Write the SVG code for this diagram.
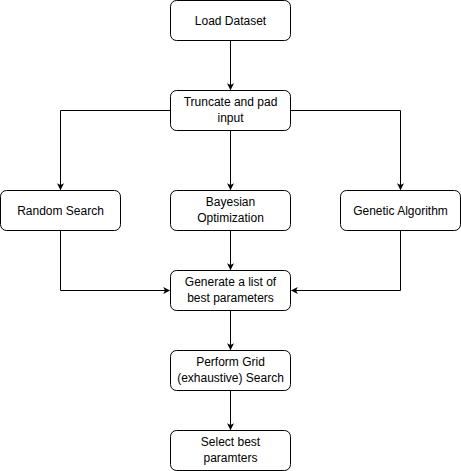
<svg xmlns="http://www.w3.org/2000/svg" width="461" height="471" viewBox="0 0 461 471">
<style>
.box{fill:#fff;stroke:#000;stroke-width:1}
.lbl{font-family:"Liberation Sans",Arial,sans-serif;font-size:12px;fill:#000;text-anchor:middle}
.edge{fill:none;stroke:#000;stroke-width:1}
</style>
<defs>
<marker id="arr" viewBox="0 0 10 10" refX="9" refY="5" markerWidth="7" markerHeight="7" markerUnits="userSpaceOnUse" orient="auto">
<path d="M0,0 L10,5 L0,10 L2.5,5 Z" fill="#000"/>
</marker>
</defs>
<rect width="461" height="471" fill="#fff"/>
<g id="edges">
<path class="edge" d="M230.5,40.5 V89.5" marker-end="url(#arr)"/>
<path class="edge" d="M170.5,110.5 H60.5 V189.5" marker-end="url(#arr)"/>
<path class="edge" d="M230.5,130.5 V189.5" marker-end="url(#arr)"/>
<path class="edge" d="M290.5,110.5 H400.5 V189.5" marker-end="url(#arr)"/>
<path class="edge" d="M60.5,230.5 V290.5 H169.5" marker-end="url(#arr)"/>
<path class="edge" d="M230.5,230.5 V269.5" marker-end="url(#arr)"/>
<path class="edge" d="M400.5,230.5 V290.5 H291.5" marker-end="url(#arr)"/>
<path class="edge" d="M230.5,310.5 V349.5" marker-end="url(#arr)"/>
<path class="edge" d="M230.5,390.5 V429.5" marker-end="url(#arr)"/>
</g>
<g id="load"><rect class="box" x="170.5" y="0.5" width="120" height="40" rx="6"/><text class="lbl" x="230.5" y="25">Load Dataset</text></g>
<g id="truncate"><rect class="box" x="170.5" y="90.5" width="120" height="40" rx="6"/><text class="lbl" x="230.5" y="106">Truncate and pad</text><text class="lbl" x="230.5" y="122">input</text></g>
<g id="random"><rect class="box" x="0.5" y="190.5" width="120" height="40" rx="6"/><text class="lbl" x="60.5" y="215">Random Search</text></g>
<g id="bayes"><rect class="box" x="170.5" y="190.5" width="120" height="40" rx="6"/><text class="lbl" x="230.5" y="206">Bayesian</text><text class="lbl" x="230.5" y="222">Optimization</text></g>
<g id="genetic"><rect class="box" x="340.5" y="190.5" width="120" height="40" rx="6"/><text class="lbl" x="400.5" y="215">Genetic Algorithm</text></g>
<g id="generate"><rect class="box" x="170.5" y="270.5" width="120" height="40" rx="6"/><text class="lbl" x="230.5" y="286">Generate a list of</text><text class="lbl" x="230.5" y="302">best parameters</text></g>
<g id="grid"><rect class="box" x="170.5" y="350.5" width="120" height="40" rx="6"/><text class="lbl" x="230.5" y="366">Perform Grid</text><text class="lbl" x="230.5" y="382">(exhaustive) Search</text></g>
<g id="select"><rect class="box" x="170.5" y="430.5" width="120" height="40" rx="6"/><text class="lbl" x="230.5" y="446">Select best</text><text class="lbl" x="230.5" y="462">paramters</text></g>
</svg>
